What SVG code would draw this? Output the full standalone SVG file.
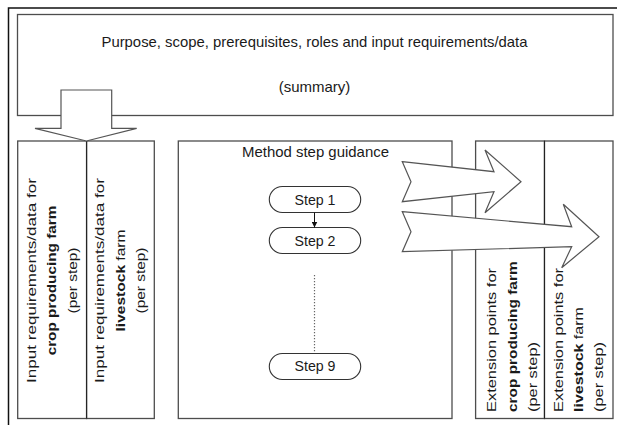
<svg xmlns="http://www.w3.org/2000/svg" width="617" height="425" viewBox="0 0 617 425">
<defs>
<style>
.box{fill:#ffffff;stroke:#4d4d4d;stroke-width:1.3}
.div{stroke:#222;stroke-width:1;fill:none}
.blk{fill:#ffffff;stroke:#555;stroke-width:1.2;stroke-linejoin:miter}
.t{font-family:"Liberation Sans",Arial,sans-serif;fill:#1a1a1a;font-size:15px}
.r{font-family:"Liberation Sans",Arial,sans-serif;fill:#1a1a1a;font-size:12.5px}
.b{font-weight:bold}
.step{fill:#ffffff;stroke:#333;stroke-width:1.1}
</style>
<marker id="ah" viewBox="0 0 8 8" refX="8" refY="4" markerWidth="6" markerHeight="6" orient="auto" markerUnits="userSpaceOnUse">
<path d="M0,0 L8,4 L0,8 Z" fill="#111"/>
</marker>
</defs>
<rect width="617" height="425" fill="#ffffff"/>
<g id="frame"><path d="M8.5,425 V8 H617" fill="none" stroke="#111" stroke-width="1.5"/></g>

<g id="top-box">
<rect class="box" x="17.5" y="14.5" width="595.5" height="101"/>
<text class="t" x="314.5" y="46.5" text-anchor="middle" textLength="426" lengthAdjust="spacingAndGlyphs">Purpose, scope, prerequisites, roles and input requirements/data</text>
<text class="t" x="314.5" y="91.5" text-anchor="middle">(summary)</text>
</g>

<g id="input-crop">
<rect class="box" x="17.7" y="141" width="68.9" height="277.5"/>
<text class="r" transform="translate(35.7,280.5) rotate(-90) scale(1.366,1)" text-anchor="middle">Input requirements/data for</text>
<text class="r b" transform="translate(56.2,280.5) rotate(-90) scale(1.226,1)" text-anchor="middle">crop producing farm</text>
<text class="r" transform="translate(76.5,280.5) rotate(-90) scale(1.234,1)" text-anchor="middle">(per step)</text>
</g>

<g id="input-livestock">
<rect class="box" x="86.6" y="141" width="67.7" height="277.5"/>
<line class="div" x1="86.6" y1="141" x2="86.6" y2="418.5"/>
<text class="r" transform="translate(104.4,280.5) rotate(-90) scale(1.366,1)" text-anchor="middle">Input requirements/data for</text>
<text class="r" transform="translate(124.8,280.5) rotate(-90) scale(1.244,1)" text-anchor="middle"><tspan class="b">livestock</tspan> farm</text>
<text class="r" transform="translate(145,280.5) rotate(-90) scale(1.234,1)" text-anchor="middle">(per step)</text>
</g>

<g id="method-box">
<rect class="box" x="178.3" y="141" width="273.7" height="277.5"/>
<text class="t" x="315.5" y="156.5" text-anchor="middle" textLength="147" lengthAdjust="spacingAndGlyphs">Method step guidance</text>
</g>

<g id="step1">
<rect class="step" x="269.3" y="186.5" width="91.4" height="26" rx="13"/>
<text class="t" x="315" y="204.5" text-anchor="middle" textLength="41" lengthAdjust="spacingAndGlyphs">Step 1</text>
</g>
<g id="step2">
<rect class="step" x="269.3" y="227.5" width="91.4" height="26" rx="13"/>
<text class="t" x="315" y="245.5" text-anchor="middle" textLength="41" lengthAdjust="spacingAndGlyphs">Step 2</text>
</g>
<g id="step9">
<rect class="step" x="269.3" y="353.5" width="91.4" height="26" rx="13"/>
<text class="t" x="315" y="371" text-anchor="middle" textLength="41" lengthAdjust="spacingAndGlyphs">Step 9</text>
</g>

<g id="ext-crop">
<rect class="box" x="475.6" y="141" width="68.9" height="277.5"/>
<text class="r" transform="translate(496,412) rotate(-90) scale(1.312,1)">Extension points for</text>
<text class="r b" transform="translate(516.5,412) rotate(-90) scale(1.234,1)">crop producing farm</text>
<text class="r" transform="translate(536.5,412) rotate(-90) scale(1.31,1)">(per step)</text>
</g>

<g id="ext-livestock">
<rect class="box" x="544.5" y="141" width="68.5" height="277.5"/>
<line class="div" x1="544.5" y1="141" x2="544.5" y2="418.5"/>
<text class="r" transform="translate(563,412) rotate(-90) scale(1.312,1)">Extension points for</text>
<text class="r" transform="translate(583,412) rotate(-90) scale(1.28,1)"><tspan class="b">livestock</tspan> farm</text>
<text class="r" transform="translate(603,412) rotate(-90) scale(1.31,1)">(per step)</text>
</g>

<g id="connectors">
<polygon class="blk" points="61,90 111.7,90 111.7,128.3 136.7,128.3 86.4,141 35,128.3 61,128.3"/>
<polygon class="blk" points="402.3,161.7 494,171.7 485,150 521,181.7 485,212.7 494,191.7 402.3,201.7 411,181.7"/>
<polygon class="blk" points="402.3,211.7 571.7,226.7 563.3,204.3 599,236.7 561.7,267.7 571.7,246.7 402.3,251.7 411,231.7"/>
<line x1="314.5" y1="212.5" x2="314.5" y2="227.5" stroke="#111" stroke-width="1" marker-end="url(#ah)"/>
<line x1="314.5" y1="275" x2="314.5" y2="352" stroke="#666" stroke-width="1.2" stroke-dasharray="1.2,1.8"/>
</g>
</svg>
